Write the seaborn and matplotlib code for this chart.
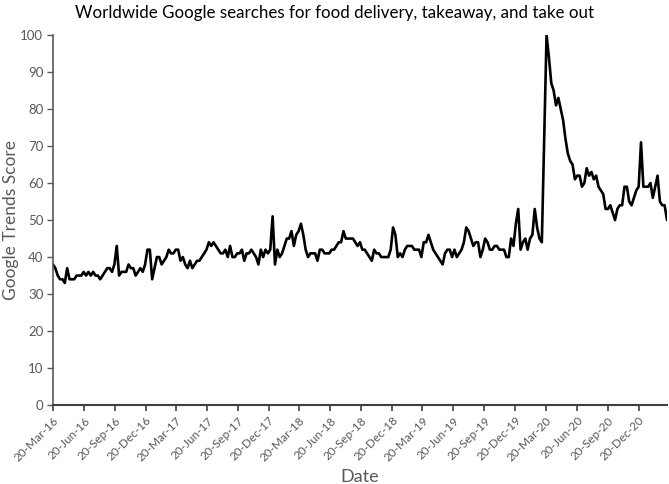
import numpy as np
import pandas as pd
import matplotlib
matplotlib.use("Agg")
import matplotlib.pyplot as plt
import matplotlib.dates as mdates
import seaborn as sns

# weekly Google Trends scores, starting 20-Mar-2016
start_date = "2016-03-20"
scores_2016 = [38, 37, 35, 34, 34, 33, 37, 34, 34, 34, 35, 35, 35, 36, 35, 36, 35, 36, 35, 35,
               34, 35, 36, 37, 37, 36, 38, 43, 35, 36, 36, 36, 38, 37, 37, 35, 36, 37, 36, 38,
               42, 42]
scores_2017 = [34, 37, 40, 40, 38, 39, 40, 42, 41, 41, 42, 42, 39, 40, 38, 37, 39, 37, 38, 39,
               39, 40, 41, 42, 44, 43, 44, 43, 42, 41, 41, 42, 40, 43, 40,
               40, 41, 41, 42, 39, 41, 41, 42, 41, 40, 38, 42, 40, 42, 41, 42, 51, 38, 42, 40]
scores_2018 = [41, 43, 45, 45, 47, 43, 46, 47, 49, 46, 42, 40, 41, 41, 41, 39, 42, 42, 41,
               41, 41, 42, 42, 43, 44, 44, 47, 45, 45, 45, 45, 44, 43, 44, 42, 42, 41, 40, 39,
               42, 41, 41, 40, 40, 40, 40, 42, 48, 46]
scores_2019 = [40, 41, 40, 42, 43, 43, 43, 42,
               42, 42, 40, 44, 44, 46, 44, 42, 41, 40, 39, 38, 41, 42, 42, 40, 42, 40, 41, 42,
               44, 48, 47, 45, 43, 44, 44, 40, 42, 45, 44, 42, 42, 43, 43, 42, 42, 42,
               40, 40, 45, 43, 49, 53, 42, 44, 45, 42, 45, 46, 53, 48, 45, 44]
scores_2020 = [72, 100, 94, 87, 85, 81, 83, 80, 77, 72, 68, 66, 65, 61, 62, 62, 59, 60, 64, 62,
               63, 61, 62, 59, 58, 57, 53, 53, 54, 52, 50, 53, 54, 54, 59, 59, 55, 54, 56, 58,
               59, 71, 59, 59, 59, 60, 56, 59, 62, 55, 54, 54, 50]

scores = scores_2016 + scores_2017 + scores_2018 + scores_2019 + scores_2020
dates = pd.date_range(start_date, periods=len(scores), freq="7D")
df = pd.DataFrame({"Date": dates, "Score": scores})

# quarterly ticks on the 20th: Mar, Jun, Sep, Dec
tick_dates = pd.date_range("2016-03-01", "2020-12-01", freq="3MS") + pd.Timedelta(days=19)

sns.set_style("white")
plt.rcParams["font.family"] = ["Lato", "DejaVu Sans"]

fig = plt.figure(figsize=(6.69, 4.84), dpi=100)
ax = fig.add_axes([0.0792, 0.163, 0.9178, 0.7647])

sns.lineplot(data=df, x="Date", y="Score", color="black", linewidth=1.9, ax=ax)

ax.set_xlim(dates[0], dates[-1])
ax.set_ylim(0, 100)
ax.set_yticks(np.arange(0, 101, 10))
ax.set_xticks(tick_dates)
ax.xaxis.set_major_formatter(mdates.DateFormatter("%d-%b-%y"))
plt.setp(ax.get_xticklabels(), rotation=45, ha="right", rotation_mode="anchor")

gray = "#595959"
ax.tick_params(axis="x", which="major", direction="out", length=4, width=1.2,
               color="#404040", labelsize=8.5, labelcolor=gray, pad=3, bottom=True)
ax.tick_params(axis="y", which="major", direction="out", length=4, width=1,
               color=gray, labelsize=9.5, labelcolor=gray, pad=3, left=True)

for side in ["top", "right"]:
    ax.spines[side].set_visible(False)
ax.spines["left"].set_color(gray)
ax.spines["left"].set_linewidth(1.2)
ax.spines["bottom"].set_color("#404040")
ax.spines["bottom"].set_linewidth(1.5)

ax.set_xlabel("Date", fontsize=13, color=gray, labelpad=4)
ax.set_ylabel("Google Trends Score", fontsize=12.5, color=gray)
ax.yaxis.set_label_coords(-0.056, 0.5)
fig.suptitle("Worldwide Google searches for food delivery, takeaway, and take out",
             fontsize=12.2, color="black", x=0.5, y=0.99)

fig.savefig("out.png", dpi=100)
